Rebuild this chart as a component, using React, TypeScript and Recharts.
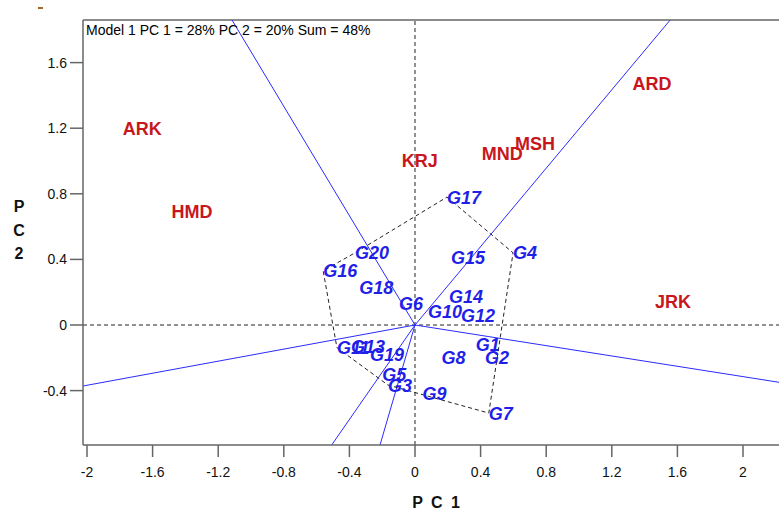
import React from 'react';
import { ScatterChart, Scatter, XAxis, YAxis, ReferenceLine } from 'recharts';

// genotype scores (label anchor = left edge of label)
const genotypeNames = ['G1', 'G2', 'G3', 'G4', 'G5', 'G6', 'G7', 'G8', 'G9', 'G10',
  'G11', 'G12', 'G13', 'G14', 'G15', 'G16', 'G17', 'G18', 'G19', 'G20'];
const genotypePC1 = [0.37, 0.427, -0.165, 0.598, -0.2, -0.098, 0.45, 0.162, 0.045, 0.08,
  -0.476, 0.28, -0.39, 0.207, 0.22, -0.56, 0.195, -0.34, -0.274, -0.366];
const genotypePC2 = [-0.116, -0.2, -0.366, 0.44, -0.3, 0.134, -0.537, -0.2, -0.415, 0.08,
  -0.138, 0.055, -0.132, 0.171, 0.41, 0.33, 0.78, 0.226, -0.183, 0.44];

// environment scores
const envNames = ['ARK', 'HMD', 'KRJ', 'MND', 'MSH', 'ARD', 'JRK'];
const envPC1 = [-1.782, -1.484, -0.081, 0.407, 0.61, 1.327, 1.463];
const envPC2 = [1.2, 0.69, 1.006, 1.043, 1.108, 1.471, 0.142];

// polygon vertices (which-won-where)
const polygonOrder = ['G17', 'G4', 'G7', 'G3', 'G11', 'G16', 'G20', 'G17'];

// rays from the origin, perpendicular to polygon sides
const rayPC1 = [-1.116, 1.556, -2.0244, 2.3476, -0.508, -0.2134];
const rayPC2 = [1.8598, 1.8598, -0.372, -0.3695, -0.7317, -0.7317];

const xTicks = [-2, -1.6, -1.2, -0.8, -0.4, 0, 0.4, 0.8, 1.2, 1.6, 2];
const yTicks = [-0.4, 0, 0.4, 0.8, 1.2, 1.6];
const xDomain = [-2.0244, 2.3476];
const yDomain = [-0.7317, 1.8598];

const FONT = '"Liberation Sans", Arial, sans-serif';

const genotypes = genotypeNames.map((name, i) => ({ name, x: genotypePC1[i], y: genotypePC2[i] }));
const environments = envNames.map((name, i) => ({ name, x: envPC1[i], y: envPC2[i] }));
const polygon = polygonOrder.map((n) => genotypes.find((g) => g.name === n)!);

const GenoLabel = (props: any) => (
  <text x={props.cx} y={props.cy} dy="0.36em" textAnchor="start" fontFamily={FONT}
    fontSize={18} fontWeight="bold" fontStyle="italic" fill="#1f1fe8">
    {props.payload.name}
  </text>
);

const EnvLabel = (props: any) => (
  <text x={props.cx} y={props.cy} dy="0.36em" textAnchor="start" fontFamily={FONT}
    fontSize={18} fontWeight="bold" fill="#c8161d">
    {props.payload.name}
  </text>
);

const fmt = (v: number) => String(v);

export default function App() {
  return (
    <div style={{ position: 'absolute', left: 0, top: 0, width: 779, height: 511, overflow: 'hidden', background: '#fff' }}>
      <ScatterChart width={800} height={511} margin={{ top: 20, right: 0, bottom: 0, left: 0 }}>
        <XAxis type="number" dataKey="x" domain={xDomain} ticks={xTicks} allowDataOverflow
          height={66} tickSize={12} tickMargin={10} tickFormatter={fmt}
          stroke="#666" strokeWidth={1.5}
          tick={{ fill: '#111', fontSize: 14, fontFamily: FONT }} />
        <YAxis type="number" dataKey="y" domain={yDomain} ticks={yTicks} allowDataOverflow
          width={83} tickSize={13} tickMargin={3} tickFormatter={fmt}
          stroke="#666" strokeWidth={1.5}
          tick={{ fill: '#111', fontSize: 14, fontFamily: FONT }} />
        <ReferenceLine y={yDomain[1]} stroke="#666" strokeWidth={1.5} />
        <ReferenceLine x={0} stroke="#222" strokeDasharray="4 3" />
        <ReferenceLine y={0} stroke="#222" strokeDasharray="4 3" />
        {rayPC1.map((x, i) => (
          <ReferenceLine key={i} ifOverflow="visible" stroke="#2b2bff" strokeWidth={1}
            segment={[{ x: 0, y: 0 }, { x, y: rayPC2[i] }]} />
        ))}
        <Scatter data={polygon} isAnimationActive={false} lineType="joint"
          line={{ stroke: '#222', strokeDasharray: '4 3', strokeWidth: 1 }}
          shape={() => <g />} />
        <Scatter data={environments} isAnimationActive={false} shape={EnvLabel} />
        <Scatter data={genotypes} isAnimationActive={false} shape={GenoLabel} />
      </ScatterChart>
      <div style={{ position: 'absolute', left: 38, top: 7, width: 5, height: 2, background: '#a0682a' }} />
      <div style={{ position: 'absolute', left: 86, top: 22, fontFamily: FONT, fontSize: 14, lineHeight: '16px', color: '#000', whiteSpace: 'nowrap' }}>
        Model 1 PC 1 = 28% PC 2 = 20% Sum = 48%
      </div>
      <div style={{ position: 'absolute', left: 8, top: 195, width: 22, textAlign: 'center', fontFamily: FONT, fontSize: 16, fontWeight: 'bold', lineHeight: '23.5px', color: '#111' }}>
        P<br />C<br />2
      </div>
      <div style={{ position: 'absolute', left: 387, top: 494, width: 100, textAlign: 'center', fontFamily: FONT, fontSize: 16, fontWeight: 'bold', letterSpacing: 2, lineHeight: '18px', color: '#111' }}>
        P C 1
      </div>
    </div>
  );
}
